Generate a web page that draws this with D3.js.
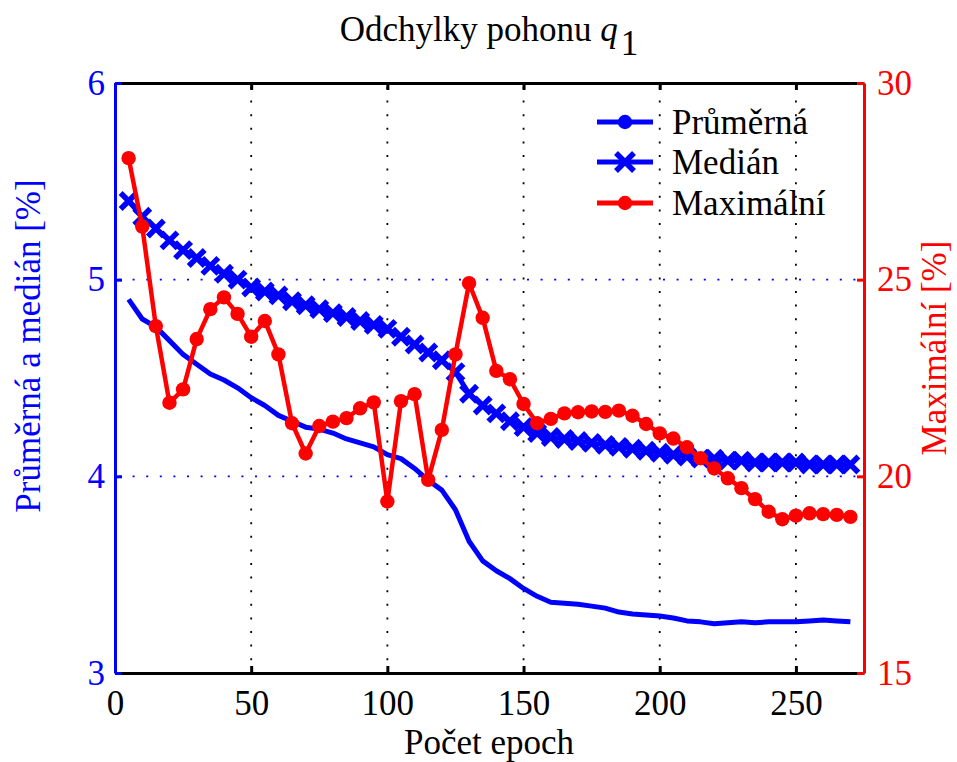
<!DOCTYPE html>
<html>
<head>
<meta charset="utf-8">
<script src="https://cdn.jsdelivr.net/npm/d3@7"></script>
</head>
<body style="margin:0">
<svg id="chart" width="957" height="762" style="display:block"></svg>
<script>
// Training epochs
const epochs = [5,10,15,20,25,30,35,40,45,50,55,60,65,70,75,80,85,90,95,100,
  105,110,115,120,125,130,135,140,145,150,155,160,165,170,175,180,185,190,195,200,
  205,210,215,220,225,230,235,240,245,250,255,260,265,270];

// Mean deviation [%] (left axis)
const prumerna = [4.90,4.80,4.76,4.69,4.62,4.57,4.52,4.49,4.45,4.40,
  4.36,4.31,4.28,4.25,4.24,4.22,4.19,4.17,4.15,4.11,
  4.09,4.04,3.98,3.93,3.83,3.67,3.57,3.52,3.48,3.43,
  3.39,3.36,3.355,3.35,3.34,3.33,3.31,3.30,3.295,3.29,
  3.28,3.265,3.26,3.25,3.255,3.26,3.255,3.26,3.26,3.26,
  3.265,3.27,3.265,3.26];

// Median deviation [%] (left axis)
const median = [5.40,5.32,5.26,5.20,5.15,5.11,5.07,5.03,5.00,4.96,
  4.94,4.92,4.89,4.87,4.85,4.83,4.81,4.79,4.77,4.75,
  4.71,4.67,4.63,4.59,4.53,4.42,4.36,4.32,4.28,4.25,
  4.22,4.20,4.19,4.18,4.17,4.16,4.15,4.14,4.13,4.12,
  4.11,4.10,4.09,4.09,4.08,4.08,4.07,4.07,4.07,4.07,
  4.06,4.06,4.06,4.06];

// Maximum deviation [%] (right axis)
const maximalni = [28.09,26.35,23.82,21.87,22.21,23.49,24.25,24.55,24.13,23.55,
  23.95,23.10,21.35,20.58,21.28,21.39,21.48,21.73,21.88,19.36,
  21.91,22.09,19.91,21.18,23.10,24.91,24.03,22.68,22.47,21.84,
  21.35,21.46,21.60,21.63,21.65,21.64,21.67,21.54,21.33,21.09,
  20.96,20.74,20.46,20.20,19.95,19.70,19.42,19.10,18.91,19.00,
  19.06,19.04,19.02,18.97];

const xTicks = [0,50,100,150,200,250];
const yLeftTicks = [3,4,5,6];
const yRightTicks = [15,20,25,30];
const seriesNames = ["Průměrná","Medián","Maximální"];

const BLUE = "#0000ff", RED = "#ff0000";

const svg = d3.select("#chart")
  .attr("font-family", "Liberation Serif")
  .attr("font-size", 35);
const L = 115, R = 864, T = 83, B = 673;

const x = d3.scaleLinear().domain([0, 275]).range([L, R]);
const yL = d3.scaleLinear().domain([3, 6]).range([B, T]);
const yR = d3.scaleLinear().domain([15, 30]).range([B, T]);

function serif(sel) {
  return sel.style("font-family", "\"Liberation Serif\"").style("font-size", "35px");
}

// Grid: vertical black dotted at x ticks, horizontal blue dotted at inner left ticks
const grid = svg.append("g");
grid.selectAll("line.vg").data(xTicks.filter(d => d > 0)).join("line")
  .attr("x1", d => x(d)).attr("x2", d => x(d))
  .attr("y1", T + 4).attr("y2", B)
  .attr("stroke", "#000").attr("stroke-width", 1.8)
  .attr("stroke-dasharray", "2,11.6");
grid.selectAll("line.hg").data([4, 5]).join("line")
  .attr("x1", L + 4).attr("x2", R)
  .attr("y1", d => yL(d)).attr("y2", d => yL(d))
  .attr("stroke", BLUE).attr("stroke-width", 1.8)
  .attr("stroke-dasharray", "2,11.6");

// Axes
function styleAxis(g, color, size) {
  g.attr("font-family", null).attr("font-size", null);
  g.select(".domain").attr("stroke", color).attr("stroke-width", size);
  g.selectAll(".tick line").attr("stroke", color).attr("stroke-width", size);
  serif(g.selectAll(".tick text")).attr("fill", color);
}
const fmt = d3.format("d");

const axBottom = svg.append("g").attr("transform", `translate(0,${B})`)
  .call(d3.axisBottom(x).tickValues(xTicks).tickFormat(fmt).tickSizeInner(-7).tickSizeOuter(0).tickPadding(17));
styleAxis(axBottom, "#000", 3);

const axTop = svg.append("g").attr("transform", `translate(0,${T})`)
  .call(d3.axisTop(x).tickValues(xTicks).tickSizeInner(-7).tickSizeOuter(0).tickFormat(""));
styleAxis(axTop, "#000", 3);

const axLeft = svg.append("g").attr("transform", `translate(${L},0)`)
  .call(d3.axisLeft(yL).tickValues(yLeftTicks).tickFormat(fmt).tickSizeInner(-7).tickSizeOuter(0).tickPadding(10));
styleAxis(axLeft, BLUE, 3);

const axRight = svg.append("g").attr("transform", `translate(${R},0)`)
  .call(d3.axisRight(yR).tickValues(yRightTicks).tickFormat(fmt).tickSizeInner(-7).tickSizeOuter(0).tickPadding(13));
styleAxis(axRight, RED, 3);

// Data series
const lineL = d3.line().x((d, i) => x(epochs[i])).y(d => yL(d));
const lineR = d3.line().x((d, i) => x(epochs[i])).y(d => yR(d));

svg.append("path").datum(prumerna)
  .attr("d", lineL).attr("fill", "none")
  .attr("stroke", BLUE).attr("stroke-width", 5).attr("stroke-linejoin", "round");

svg.append("path").datum(median)
  .attr("d", lineL).attr("fill", "none")
  .attr("stroke", BLUE).attr("stroke-width", 5).attr("stroke-linejoin", "round");

const xMark = (cx, cy, s) => `M${cx - s},${cy - s}L${cx + s},${cy + s}M${cx - s},${cy + s}L${cx + s},${cy - s}`;
svg.append("g").selectAll("path").data(median).join("path")
  .attr("d", (d, i) => xMark(x(epochs[i]), yL(d), 8))
  .attr("stroke", BLUE).attr("stroke-width", 5.5).attr("fill", "none");

svg.append("path").datum(maximalni)
  .attr("d", lineR).attr("fill", "none")
  .attr("stroke", RED).attr("stroke-width", 4.5).attr("stroke-linejoin", "round");
svg.append("g").selectAll("circle").data(maximalni).join("circle")
  .attr("cx", (d, i) => x(epochs[i])).attr("cy", d => yR(d))
  .attr("r", 7.2).attr("fill", RED);

// Legend
const legend = svg.append("g");
const legY = [122, 162, 203];
const legColors = [BLUE, BLUE, RED];
seriesNames.forEach((name, i) => {
  legend.append("line")
    .attr("x1", 597).attr("x2", 653).attr("y1", legY[i]).attr("y2", legY[i])
    .attr("stroke", legColors[i]).attr("stroke-width", 5);
  if (i === 1) {
    legend.append("path").attr("d", xMark(625, legY[i], 9))
      .attr("stroke", legColors[i]).attr("stroke-width", 5.5);
  } else {
    legend.append("circle").attr("cx", 625).attr("cy", legY[i]).attr("r", 7.2)
      .attr("fill", legColors[i]);
  }
  serif(legend.append("text")).attr("x", 672).attr("y", legY[i] + 12)
    .attr("fill", "#000")
    .text(name);
});

// Title
const title = serif(svg.append("text")).attr("x", 489).attr("y", 41)
  .attr("text-anchor", "middle").attr("fill", "#000");
title.append("tspan").text("Odchylky pohonu ");
title.append("tspan").style("font-style", "italic").text("q");
title.append("tspan").attr("dx", 3).attr("dy", 14).text("1");

// Axis labels
serif(svg.append("text")).attr("x", 489).attr("y", 754).attr("text-anchor", "middle")
  .attr("fill", "#000")
  .text("Počet epoch");

serif(svg.append("text")).attr("transform", "translate(40,346) rotate(-90)")
  .attr("text-anchor", "middle").attr("fill", BLUE)
  .text("Průměrná a medián [%]");

serif(svg.append("text")).attr("transform", "translate(946,348) rotate(-90)")
  .attr("text-anchor", "middle").attr("fill", RED)
  .text("Maximální [%]");
</script>
</body>
</html>
